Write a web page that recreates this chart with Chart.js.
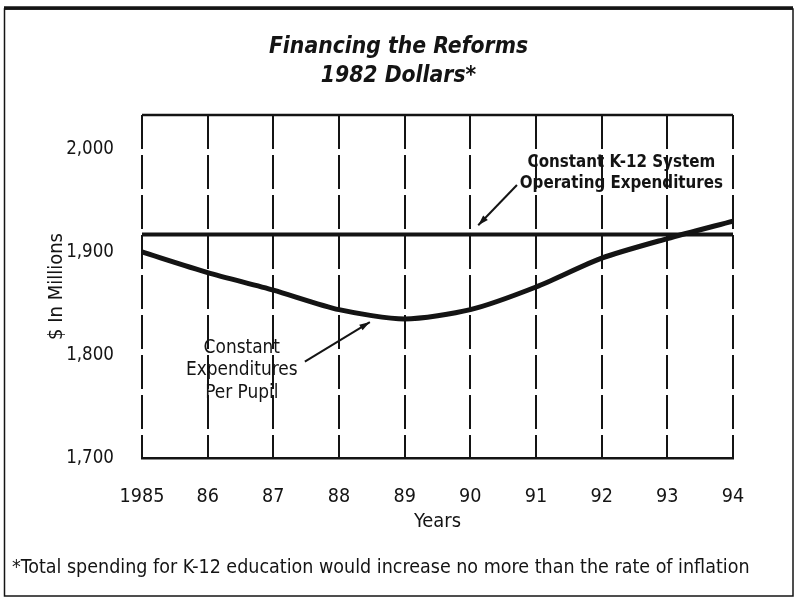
<!DOCTYPE html>
<html>
<head>
<meta charset="utf-8">
<script src="https://cdn.jsdelivr.net/npm/chart.js@4.4.1/dist/chart.umd.min.js"></script>
<style>
  body { margin: 0; background: #fff; }
</style>
</head>
<body>
<canvas id="reformChart" width="797" height="599"></canvas>
<script>
// data
var years = [1985, 1986, 1987, 1988, 1989, 1990, 1991, 1992, 1993, 1994];
var yearLabels = ['1985', '86', '87', '88', '89', '90', '91', '92', '93', '94'];
var perPupil = [1900, 1880, 1863, 1844, 1835, 1844, 1866, 1894, 1913, 1930];
var systemOperating = [1917, 1917, 1917, 1917, 1917, 1917, 1917, 1917, 1917, 1917];
var yTicks = [1700, 1800, 1900, 2000];
var yTickLabels = ['1,700', '1,800', '1,900', '2,000'];

var INK = '#141414';
var FOOTNOTE = '*Total spending for K-12 education would increase no more than the rate of inflation';

// pick the narrowest sans we have, the scan uses a condensed face
var probe = document.createElement('canvas').getContext('2d');
function w(font, txt) { probe.font = font; return probe.measureText(txt || 'Expenditures 1985').width; }
var FONT = 'Roboto, "Liberation Sans", sans-serif';
if (w('20px "Liberation Sans Narrow", monospace') !== w('20px monospace')) {
    FONT = '"Liberation Sans Narrow", Roboto, sans-serif';
} else if (w('20px "DejaVu Sans Condensed", monospace') !== w('20px monospace')) {
    FONT = '"DejaVu Sans Condensed", Roboto, sans-serif';
}

// font size that makes txt about as wide as in the scan
function fit(txt, pre, target, maxSize) {
    var base = w(pre + ' 100px ' + FONT, txt);
    return Math.min(maxSize, Math.floor(100 * target / base * 10) / 10);
}
var titleSize = fit('Financing the Reforms', 'italic bold', 260, 30);
var xTickSize = fit('1985', 'normal', 45, 22);
var yTickSize = fit('2,000', 'normal', 48, 22);
var calloutBold = fit('Constant K-12 System', 'bold', 188, 20);
var calloutReg = fit('Expenditures', 'normal', 112, 20);
var noteSize = fit(FOOTNOTE, 'normal', 738, 20);
var yearsSize = fit('Years', 'normal', 47, 20);
var yTitleSize = fit('$ In Millions', 'normal', 108, 20);

function pts(vals) {
    return years.map(function (yr, i) { return { x: yr, y: vals[i] }; });
}

// frame, footnote, arrows and callout text
var extras = {
    id: 'extras',
    beforeDraw: function (chart) {
        var c = chart.ctx;
        c.save();
        c.fillStyle = '#fff';
        c.fillRect(0, 0, chart.width, chart.height);
        c.strokeStyle = INK;
        c.lineWidth = 1.5;
        c.strokeRect(4.5, 9, 788.5, 587);
        c.lineWidth = 3.5;
        c.beginPath(); c.moveTo(4, 8); c.lineTo(793, 8); c.stroke();
        c.restore();
    },
    afterDraw: function (chart) {
        var c = chart.ctx, a = chart.chartArea;
        var xs = chart.scales.x, ys = chart.scales.y;
        c.save();
        c.strokeStyle = INK;
        c.lineWidth = 2.5;
        c.beginPath(); c.moveTo(a.left, a.top); c.lineTo(a.right, a.top); c.stroke();

        c.fillStyle = INK;
        c.textAlign = 'center';
        c.textBaseline = 'middle';
        c.font = 'bold ' + calloutBold + 'px ' + FONT;
        c.fillText('Constant K-12 System', xs.getPixelForValue(1992.3), ys.getPixelForValue(1987));
        c.fillText('Operating Expenditures', xs.getPixelForValue(1992.3), ys.getPixelForValue(1966.5));
        c.font = calloutReg + 'px ' + FONT;
        c.fillText('Constant', xs.getPixelForValue(1986.52), ys.getPixelForValue(1807));
        c.fillText('Expenditures', xs.getPixelForValue(1986.52), ys.getPixelForValue(1785.5));
        c.fillText('Per Pupil', xs.getPixelForValue(1986.52), ys.getPixelForValue(1763));

        arrow(c, xs.getPixelForValue(1990.71), ys.getPixelForValue(1965), xs.getPixelForValue(1990.12), ys.getPixelForValue(1926));
        arrow(c, xs.getPixelForValue(1987.48), ys.getPixelForValue(1793.5), xs.getPixelForValue(1988.47), ys.getPixelForValue(1832));

        c.font = noteSize + 'px ' + FONT;
        c.textAlign = 'left';
        c.fillText(FOOTNOTE, 12, 568);
        c.restore();
    }
};

function arrow(c, x1, y1, x2, y2) {
    var ang = Math.atan2(y2 - y1, x2 - x1);
    c.lineWidth = 2;
    c.beginPath(); c.moveTo(x1, y1); c.lineTo(x2, y2); c.stroke();
    c.beginPath();
    c.moveTo(x2, y2);
    c.lineTo(x2 - 11 * Math.cos(ang - 0.3), y2 - 11 * Math.sin(ang - 0.3));
    c.lineTo(x2 - 11 * Math.cos(ang + 0.3), y2 - 11 * Math.sin(ang + 0.3));
    c.closePath();
    c.fill();
}

var ctx = document.getElementById('reformChart').getContext('2d');
var reformChart = new Chart(ctx, {
    type: 'line',
    data: {
        datasets: [{
            label: 'Constant Expenditures Per Pupil',
            data: pts(perPupil),
            borderColor: INK,
            borderWidth: 5,
            pointRadius: 0,
            tension: 0.25
        }, {
            label: 'Constant K-12 System Operating Expenditures',
            data: pts(systemOperating),
            borderColor: INK,
            borderWidth: 4,
            pointRadius: 0
        }]
    },
    options: {
        responsive: false,
        animation: false,
        layout: { padding: { left: 4, right: 4, top: 0, bottom: 61 } },
        plugins: {
            legend: { display: false },
            tooltip: { enabled: false },
            title: {
                display: true,
                text: ['Financing the Reforms', '1982 Dollars*'],
                color: INK,
                font: { family: FONT, size: titleSize, style: 'italic', weight: 'bold', lineHeight: 29 / titleSize },
                padding: { top: 33, bottom: 24 }
            }
        },
        scales: {
            x: {
                type: 'linear',
                min: 1985,
                max: 1994,
                afterBuildTicks: function (s) { s.ticks = years.map(function (v) { return { value: v }; }); },
                afterFit: function (s) { s.height = 80; },
                ticks: {
                    color: INK,
                    padding: 27,
                    font: { family: FONT, size: xTickSize },
                    callback: function (v) { return yearLabels[years.indexOf(v)]; }
                },
                grid: { color: INK, lineWidth: 2, drawTicks: false },
                border: { display: true, color: INK, width: 2.5, dash: [34, 6] },
                title: { display: true, text: 'Years', color: INK, font: { family: FONT, size: yearsSize }, padding: { top: 4 } }
            },
            y: {
                min: 1700,
                max: 2033,
                afterBuildTicks: function (s) { s.ticks = yTicks.map(function (v) { return { value: v }; }); },
                afterFit: function (s) { s.width = 138; },
                ticks: {
                    color: INK,
                    padding: 20,
                    font: { family: FONT, size: yTickSize },
                    callback: function (v) { return yTickLabels[yTicks.indexOf(v)]; }
                },
                grid: { display: false },
                border: { display: false },
                title: { display: true, text: '$ In Millions', color: INK, font: { family: FONT, size: yTitleSize }, padding: { top: 41, bottom: 0 } }
            },
            gutter: {
                // empty right-hand axis that keeps the white margin right of the plot
                position: 'right',
                afterFit: function (s) { s.width = 60; },
                ticks: { display: false },
                grid: { display: false },
                border: { display: false }
            }
        }
    },
    plugins: [extras]
});
</script>
</body>
</html>
